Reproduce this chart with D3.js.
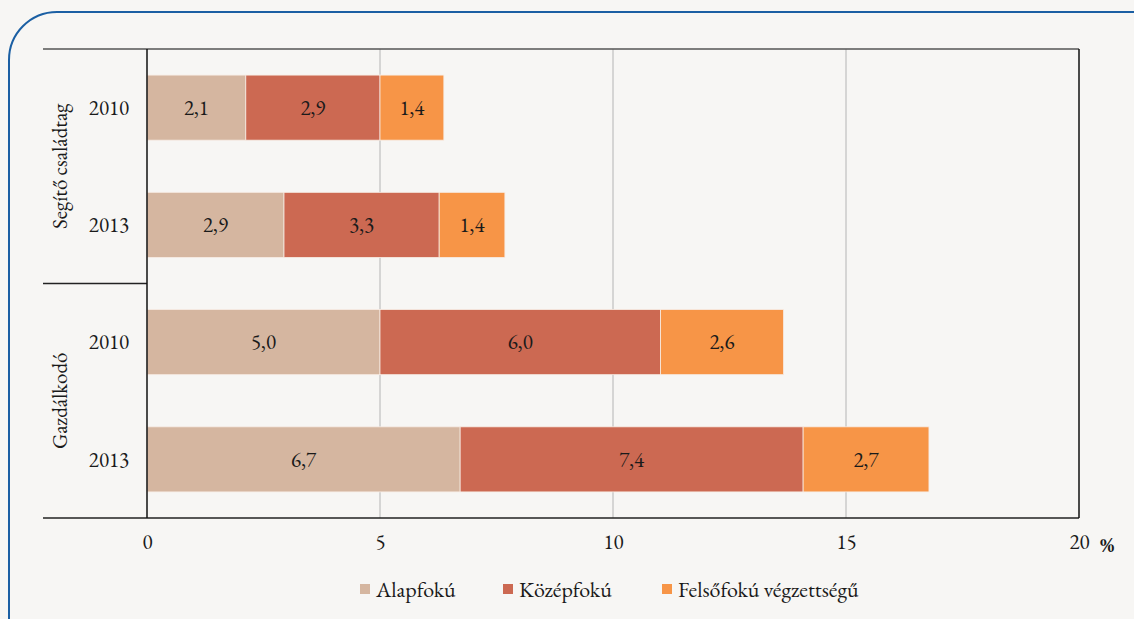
<!DOCTYPE html>
<html>
<head>
<meta charset="utf-8">
<script src="https://cdn.jsdelivr.net/npm/d3@7"></script>
<style>
  body { margin: 0; background: #f7f6f4; }
</style>
</head>
<body>
<svg width="1134" height="619"></svg>
<script>
// data
var groups = ["Segítő családtag", "Segítő családtag", "Gazdálkodó", "Gazdálkodó"];
var years = ["2010", "2013", "2010", "2013"];
var series = ["Alapfokú", "Középfokú", "Felsőfokú végzettségű"];
var alapfoku = [2.12, 2.94, 5.0, 6.72];
var kozepfoku = [2.88, 3.33, 6.02, 7.36];
var felsofoku = [1.37, 1.41, 2.64, 2.7];
var xTicks = [0, 5, 10, 15, 20];
var colors = ["#d5b6a0", "#cc6952", "#f79547"];

var FONT = "'EB Garamond', 'Liberation Serif', serif";
var FSIZE = "21px";

var svg = d3.select("svg");
var margin = { top: 49, right: 55, bottom: 101, left: 147 };
var width = +svg.attr("width") - margin.left - margin.right;
var height = +svg.attr("height") - margin.top - margin.bottom;

var rows = years.map(function(y, i) {
  return { key: groups[i] + "|" + y, group: groups[i], year: y,
           "Alapfokú": alapfoku[i], "Középfokú": kozepfoku[i], "Felsőfokú végzettségű": felsofoku[i] };
});

var x = d3.scaleLinear().domain([0, 20]).range([0, width]);
var y = d3.scaleBand()
    .domain(rows.map(function(d) { return d.key; }))
    .range([0, height])
    .paddingInner(0.445)
    .paddingOuter(0.2225);

var stack = d3.stack().keys(series)(rows);
var fmt = function(v) { return d3.format(".1f")(v).replace(".", ","); };

// rounded frame
svg.append("rect")
    .attr("x", 9).attr("y", 12)
    .attr("width", 1200).attr("height", 680)
    .attr("rx", 48).attr("ry", 48)
    .attr("fill", "none")
    .attr("stroke", "#1b5fa3")
    .attr("stroke-width", 2);

var g = svg.append("g")
    .attr("transform", "translate(" + margin.left + "," + margin.top + ")");

// gridlines
g.append("g")
    .selectAll("line")
    .data(xTicks.slice(1, -1))
    .enter().append("line")
    .attr("x1", function(d) { return x(d); })
    .attr("x2", function(d) { return x(d); })
    .attr("y1", 0).attr("y2", height)
    .attr("stroke", "#b4b4b4")
    .attr("stroke-width", 1);

// bars
var layer = g.selectAll(".layer")
    .data(stack)
    .enter().append("g")
    .attr("class", "layer")
    .attr("fill", function(d, i) { return colors[i]; });

layer.selectAll("rect")
    .data(function(d) { return d; })
    .enter().append("rect")
    .attr("x", function(d) { return x(d[0]); })
    .attr("y", function(d) { return y(d.data.key); })
    .attr("width", function(d) { return x(d[1]) - x(d[0]); })
    .attr("height", y.bandwidth())
    .attr("stroke", "#f7ece4")
    .attr("stroke-width", 0.8);

layer.selectAll("text")
    .data(function(d) { return d; })
    .enter().append("text")
    .attr("x", function(d) { return x((d[0] + d[1]) / 2); })
    .attr("y", function(d) { return y(d.data.key) + y.bandwidth() / 2; })
    .attr("dy", "0.35em")
    .attr("text-anchor", "middle")
    .style("font-family", FONT)
    .style("font-size", FSIZE)
    .attr("fill", "#1a1a1a")
    .text(function(d) { return fmt(d[1] - d[0]); });

// frame lines
g.append("line").attr("x1", -104).attr("x2", width).attr("y1", 0).attr("y2", 0)
    .attr("stroke", "#555").attr("stroke-width", 1.5);
g.append("line").attr("x1", -104).attr("x2", width).attr("y1", height).attr("y2", height)
    .attr("stroke", "#222").attr("stroke-width", 1.5);
g.append("line").attr("x1", -104).attr("x2", 0).attr("y1", height / 2).attr("y2", height / 2)
    .attr("stroke", "#222").attr("stroke-width", 1.5);
g.append("line").attr("x1", 0).attr("x2", 0).attr("y1", 0).attr("y2", height)
    .attr("stroke", "#111").attr("stroke-width", 1.5);
g.append("line").attr("x1", width).attr("x2", width).attr("y1", 0).attr("y2", height)
    .attr("stroke", "#111").attr("stroke-width", 1.5);

// x axis labels
var xAxis = g.append("g")
    .attr("transform", "translate(0," + height + ")")
    .call(d3.axisBottom(x).tickValues(xTicks).tickSize(0).tickPadding(16).tickFormat(d3.format("d")));
xAxis.select(".domain").remove();
xAxis.selectAll("text")
    .style("font-family", FONT)
    .style("font-size", FSIZE)
    .attr("fill", "#1a1a1a");

g.append("text")
    .attr("x", width + 28)
    .attr("y", height + 34)
    .attr("text-anchor", "middle")
    .style("font-family", FONT)
    .style("font-size", FSIZE)
    .style("font-weight", "bold")
    .attr("fill", "#1a1a1a")
    .text("%");

// year labels
g.selectAll(".year")
    .data(rows)
    .enter().append("text")
    .attr("class", "year")
    .attr("x", -38)
    .attr("y", function(d) { return y(d.key) + y.bandwidth() / 2; })
    .attr("dy", "0.35em")
    .attr("text-anchor", "middle")
    .style("font-family", FONT)
    .style("font-size", FSIZE)
    .attr("fill", "#1a1a1a")
    .text(function(d) { return d.year; });

// group labels
var groupNames = ["Segítő családtag", "Gazdálkodó"];
g.selectAll(".group")
    .data(groupNames)
    .enter().append("text")
    .attr("class", "group")
    .attr("transform", function(d, i) {
      return "translate(-87," + (height / 4 + i * height / 2) + ") rotate(-90)";
    })
    .attr("dy", "0.35em")
    .attr("text-anchor", "middle")
    .style("font-family", FONT)
    .style("font-size", FSIZE)
    .attr("fill", "#1a1a1a")
    .text(function(d) { return d; });

// legend
var legendX = [360, 503, 662];
var legend = svg.append("g")
    .selectAll("g")
    .data(series)
    .enter().append("g")
    .attr("transform", function(d, i) { return "translate(" + legendX[i] + ",589)"; });

legend.append("rect")
    .attr("x", 0).attr("y", -5)
    .attr("width", 10).attr("height", 10)
    .attr("fill", function(d, i) { return colors[i]; });

legend.append("text")
    .attr("x", 16)
    .attr("dy", "0.35em")
    .style("font-family", FONT)
    .style("font-size", "22px")
    .attr("fill", "#1a1a1a")
    .text(function(d) { return d; });
</script>
</body>
</html>
